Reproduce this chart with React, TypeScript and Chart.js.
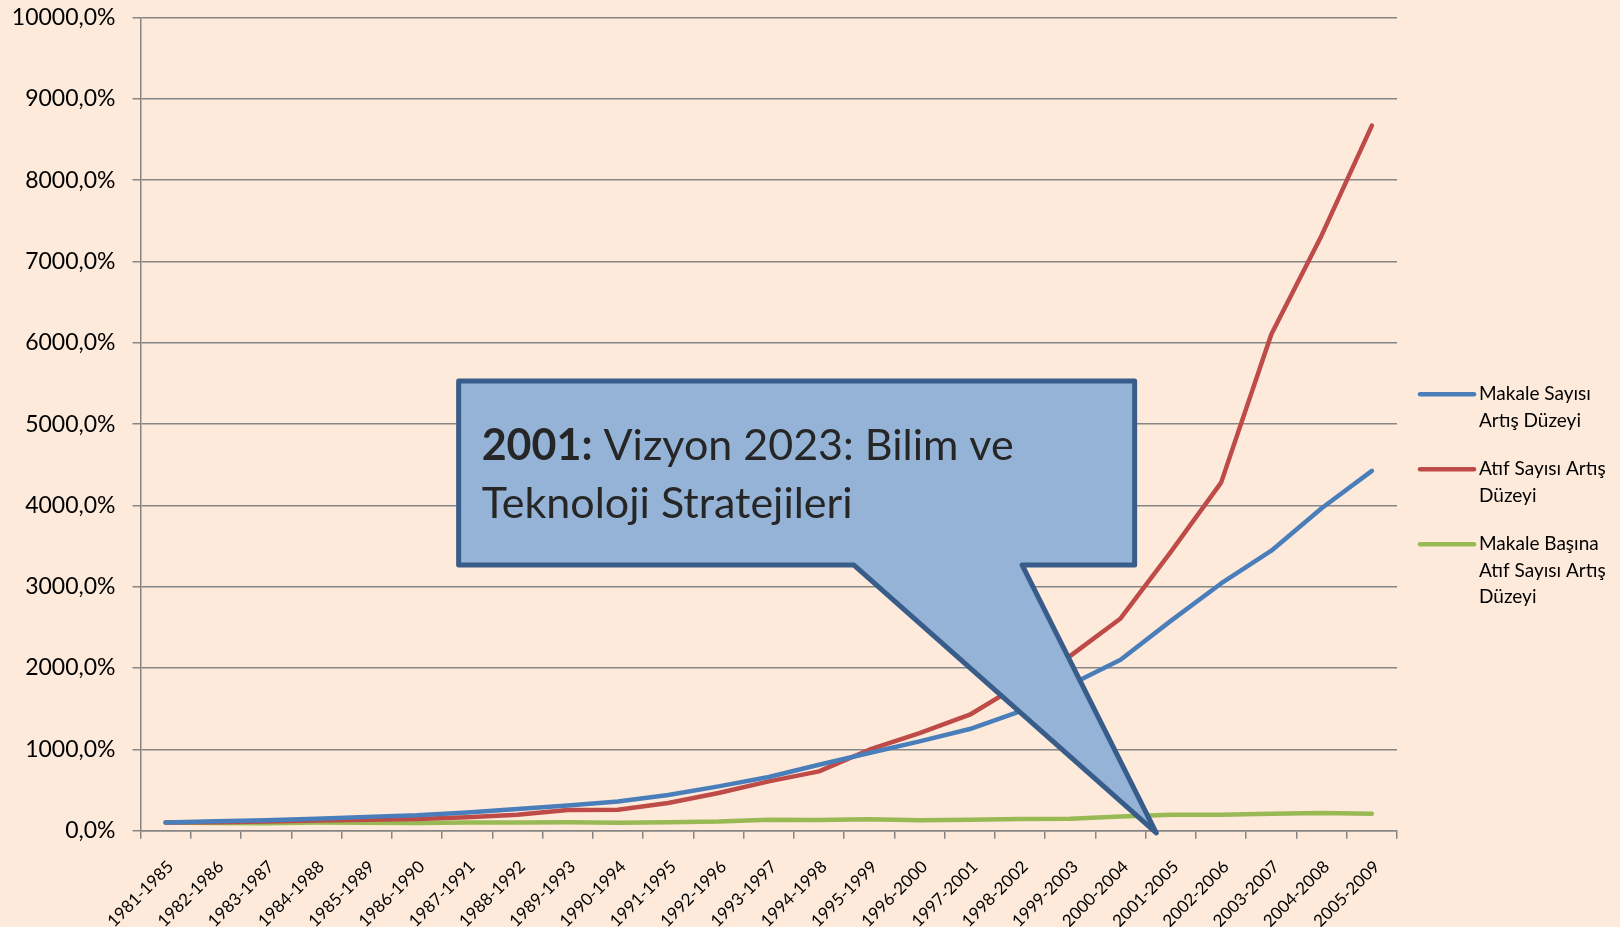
import React, { useEffect, useRef } from "react";
import { Chart, registerables } from "chart.js";

Chart.register(...registerables);

const categories = [
  "1981-1985", "1982-1986", "1983-1987", "1984-1988", "1985-1989",
  "1986-1990", "1987-1991", "1988-1992", "1989-1993", "1990-1994",
  "1991-1995", "1992-1996", "1993-1997", "1994-1998", "1995-1999",
  "1996-2000", "1997-2001", "1998-2002", "1999-2003", "2000-2004",
  "2001-2005", "2002-2006", "2003-2007", "2004-2008", "2005-2009",
];

const makaleSayisi = [
  100, 115, 128, 148, 170, 190, 225, 266, 310, 360,
  440, 545, 660, 811, 955, 1098, 1250, 1467, 1795, 2102,
  2580, 3040, 3443, 3965, 4425,
];

const atifSayisi = [
  100, 105, 112, 125, 135, 145, 165, 197, 255, 258,
  340, 463, 607, 730, 996, 1200, 1426, 1800, 2150, 2610,
  3430, 4280, 6105, 7320, 8671,
];

const makaleBasinaAtif = [
  100, 95, 92, 100, 98, 95, 100, 102, 103, 97,
  105, 112, 135, 133, 140, 128, 135, 145, 148, 175,
  195, 195, 208, 218, 208,
];

const seriesLabels = ["Makale Sayısı Artış Düzeyi", "Atıf Sayısı Artış Düzeyi", "Makale Başına Atıf Sayısı Artış Düzeyi"];
const legendLines = [
  ["Makale Sayısı", "Artış Düzeyi"],
  ["Atıf Sayısı Artış", "Düzeyi"],
  ["Makale Başına", "Atıf Sayısı Artış", "Düzeyi"],
];
const seriesColors = ["#4A7EBB", "#BE4B48", "#98B954"];

const yMin = 0;
const yMax = 10000;
const yStep = 1000;

const calloutBold = "2001:";
const calloutLine1 = " Vizyon 2023: Bilim ve";
const calloutLine2 = "Teknoloji Stratejileri";

// callout geometry in data units (category index, value)
const calloutBox = { left: 5.83, right: 19.28, top: 5531, bottom: 3268 };
const calloutTail = { baseLeft: 13.69, baseRight: 17.04, tipIndex: 19.71, tipValue: -28 };

const FONT = "Lato, 'Open Sans', sans-serif";

const calloutPlugin = {
  id: "callout",
  afterDatasetsDraw(chart: any) {
    const { ctx, scales } = chart;
    const x = scales.x;
    const y = scales.y;
    const L = x.getPixelForValue(calloutBox.left);
    const R = x.getPixelForValue(calloutBox.right);
    const T = y.getPixelForValue(calloutBox.top);
    const B = y.getPixelForValue(calloutBox.bottom);
    const bl = x.getPixelForValue(calloutTail.baseLeft);
    const br = x.getPixelForValue(calloutTail.baseRight);
    const tx = x.getPixelForValue(calloutTail.tipIndex);
    const ty = y.getPixelForValue(calloutTail.tipValue);
    ctx.save();
    ctx.beginPath();
    ctx.moveTo(L, T);
    ctx.lineTo(R, T);
    ctx.lineTo(R, B);
    ctx.lineTo(br, B);
    ctx.lineTo(tx, ty);
    ctx.lineTo(bl, B);
    ctx.lineTo(L, B);
    ctx.closePath();
    ctx.fillStyle = "#95B3D7";
    ctx.fill();
    ctx.lineWidth = 5;
    ctx.lineJoin = "round";
    ctx.strokeStyle = "#385D8A";
    ctx.stroke();

    ctx.fillStyle = "#262626";
    ctx.textBaseline = "alphabetic";
    ctx.textAlign = "left";
    const tx0 = L + 23;
    const by1 = T + 79;
    ctx.font = `bold 43px ${FONT}`;
    ctx.fillText(calloutBold, tx0, by1);
    const w = ctx.measureText(calloutBold).width;
    ctx.font = `43px ${FONT}`;
    ctx.fillText(calloutLine1, tx0 + w, by1);
    ctx.fillText(calloutLine2, tx0, by1 + 58);
    ctx.restore();
  },
};

const legendPlugin = {
  id: "customLegend",
  afterDraw(chart: any) {
    const { ctx, chartArea } = chart;
    const x0 = chartArea.right + 23;
    const lineW = 54;
    const lh = 26.5;
    let yc = 394.3;
    ctx.save();
    ctx.font = `19px ${FONT}`;
    ctx.textBaseline = "middle";
    ctx.textAlign = "left";
    legendLines.forEach((lines, i) => {
      ctx.beginPath();
      ctx.moveTo(x0, yc);
      ctx.lineTo(x0 + lineW, yc);
      ctx.strokeStyle = seriesColors[i];
      ctx.lineWidth = 4.5;
      ctx.lineCap = "round";
      ctx.stroke();
      ctx.fillStyle = "#000000";
      lines.forEach((t, j) => {
        ctx.fillText(t, x0 + lineW + 5, yc + j * lh);
      });
      yc += lines.length * lh + 22;
    });
    ctx.restore();
  },
};

export default function App() {
  const canvasRef = useRef<HTMLCanvasElement | null>(null);

  useEffect(() => {
    if (!canvasRef.current) return;
    const datasets = [makaleSayisi, atifSayisi, makaleBasinaAtif].map((d, i) => ({
      label: seriesLabels[i],
      data: d,
      borderColor: seriesColors[i],
      backgroundColor: seriesColors[i],
      borderWidth: 4.5,
      pointRadius: 0,
      pointHoverRadius: 0,
      tension: 0,
      fill: false,
      borderCapStyle: "round" as const,
      borderJoinStyle: "round" as const,
    }));
    const chart = new Chart(canvasRef.current, {
      type: "line",
      data: { labels: categories, datasets },
      options: {
        responsive: false,
        animation: false,
        devicePixelRatio: 1,
        layout: { padding: { top: 17.5, right: 223, bottom: 0, left: 0 } },
        plugins: {
          legend: { display: false },
          tooltip: { enabled: false },
        },
        scales: {
          x: {
            type: "category",
            offset: true,
            grid: {
              display: true,
              drawOnChartArea: false,
              offset: true,
              color: "#868686",
              lineWidth: 1.5,
              tickLength: 8,
            },
            border: { display: true, color: "#868686", width: 1.5 },
            ticks: {
              autoSkip: false,
              minRotation: 45,
              maxRotation: 45,
              color: "#000000",
              font: { family: FONT, size: 17 },
              padding: 18,
              labelOffset: 5,
            },
            afterFit: (s: any) => {
              s.height = 96.3;
              s.paddingLeft = 0;
              s.paddingRight = 0;
            },
          },
          y: {
            min: yMin,
            max: yMax,
            grid: {
              color: "#868686",
              lineWidth: 1.5,
              tickLength: 8,
            },
            border: { display: true, color: "#868686", width: 1.5 },
            ticks: {
              stepSize: yStep,
              color: "#000000",
              font: { family: FONT, size: 23 },
              padding: 17,
              callback: (v: any) => Number(v).toFixed(1).replace(".", ",") + "%",
            },
            afterFit: (s: any) => {
              s.width = 140.5;
              s.paddingTop = 0;
              s.paddingBottom = 0;
            },
          },
        },
      },
      plugins: [calloutPlugin, legendPlugin],
    });
    return () => chart.destroy();
  }, []);

  return (
    <div
      style={{
        position: "fixed",
        left: 0,
        top: 0,
        width: 1620,
        height: 927,
        background: "#FDEADA",
      }}
    >
      <canvas ref={canvasRef} width={1620} height={927} style={{ width: 1620, height: 927, display: "block" }} />
    </div>
  );
}
